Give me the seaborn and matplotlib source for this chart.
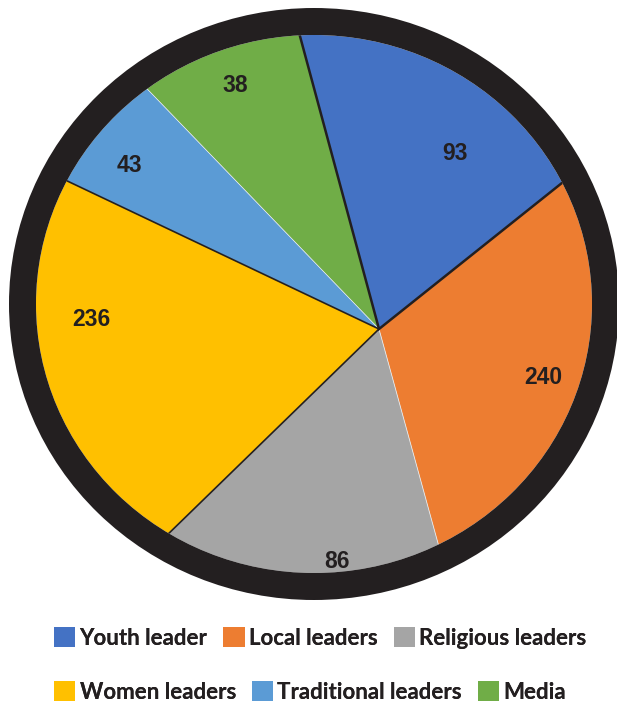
import matplotlib
matplotlib.use("Agg")
import matplotlib.pyplot as plt
import seaborn as sns
from matplotlib.patches import Ellipse, Patch

# theme
sns.set_theme(style="white")
plt.rcParams["font.family"] = ["Liberation Sans", "DejaVu Sans"]

# data
categories = ["Youth leader", "Local leaders", "Religious leaders",
              "Women leaders", "Traditional leaders", "Media"]
counts = [93, 240, 86, 236, 43, 38]
# drawn size of each slice in degrees (the slices are not proportional to the counts)
slice_deg = [66.5, 113.2, 61.2, 69.6, 20.6, 28.9]

colors = ["#4472C4", "#ED7D31", "#A5A5A5", "#FFC000", "#5B9BD5", "#70AD47"]
ink = "#231F20"

# layout in pixels (y measured from the top of the picture)
W, H = 617, 707
apex = (379, 329)
disc_center = (314, 304)
disc_w, disc_h = 556, 538
ring_px = 27
label_px = [(455, 154), (543, 377), (337, 562), (91, 320), (129, 166), (235, 85)]


def up(p):
    # pixel coords -> data coords with y pointing up
    return (p[0], H - p[1])


fig = plt.figure(figsize=(W / 100, H / 100), dpi=100)
ax = fig.add_axes([0, 0, 1, 1])

# pie drawn from the apex, then clipped to the disc
wedges, _ = ax.pie(slice_deg, colors=colors, startangle=105.1, counterclock=False,
                   center=up(apex), radius=700, frame=True,
                   wedgeprops=dict(linewidth=0))

clip = Ellipse(up(disc_center), disc_w, disc_h, transform=ax.transData)
for w in wedges:
    w.set_clip_on(True)
    w.set_clip_path(clip)

# slice borders: dark on some, light on others
edge_style = {0: (ink, 1.8, 5), 3: (ink, 1.2, 4), 2: ("#e8e8e8", 0.6, 2), 4: ("#f0f0f0", 0.5, 3)}
for i, (ec, lw, z) in edge_style.items():
    wedges[i].set_edgecolor(ec)
    wedges[i].set_linewidth(lw)
    wedges[i].set_zorder(z)

# thick black ring
ring = Ellipse(up(disc_center), disc_w + ring_px, disc_h + ring_px, fill=False,
               edgecolor=ink, linewidth=ring_px * 72 / 100, zorder=10)
ax.add_patch(ring)

# count labels
for n, p in zip(counts, label_px):
    x, y = up(p)
    ax.text(x, y, str(n), ha="center", va="center", fontsize=16.5,
            fontweight="bold", color=ink, zorder=11)

ax.set_xlim(0, W)
ax.set_ylim(0, H)
ax.set_aspect("equal")
ax.axis("off")

# legend in two rows
handles = [Patch(facecolor=c, edgecolor="none") for c in colors]
rows = [(0, 3, 638), (3, 6, 692)]
for a, b, yc in rows:
    leg = fig.legend(handles[a:b], categories[a:b], loc="center left",
                     bbox_to_anchor=(54 / W, 1 - yc / H), ncol=3, frameon=False,
                     borderpad=0, borderaxespad=0, handlelength=0.95, handleheight=0.95,
                     handletextpad=0.2, columnspacing=0.72,
                     prop=dict(family=["Lato", "DejaVu Sans"], weight="bold", size=16))
    for t in leg.get_texts():
        t.set_color(ink)
    fig.add_artist(leg)

fig.savefig("out.png", dpi=100)
